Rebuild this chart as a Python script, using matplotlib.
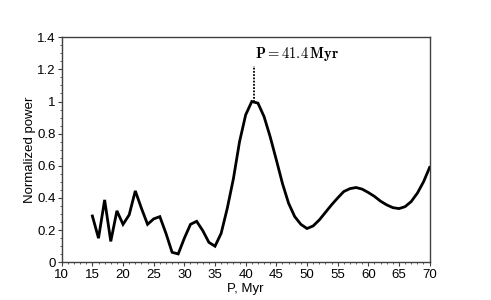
import matplotlib
matplotlib.use("Agg")
import matplotlib.pyplot as plt
from matplotlib.ticker import MultipleLocator, FuncFormatter

# periods (Myr) and normalized power
period = list(range(15, 71))
power = [0.288, 0.15, 0.388, 0.13, 0.32, 0.236, 0.295, 0.444, 0.336, 0.236,
         0.27, 0.284, 0.18, 0.062, 0.052, 0.15, 0.236, 0.255, 0.197, 0.124,
         0.10, 0.18, 0.336, 0.52, 0.75, 0.917, 1.0, 0.99, 0.906, 0.78,
         0.637, 0.49, 0.367, 0.284, 0.236, 0.21, 0.226, 0.263, 0.31, 0.357,
         0.40, 0.44, 0.458, 0.465, 0.455, 0.434, 0.41, 0.38, 0.357, 0.34,
         0.334, 0.346, 0.378, 0.43, 0.50, 0.59]
peak_period = 41.4
peak_top = 1.22

plt.rcParams['font.family'] = ['Liberation Sans', 'DejaVu Sans']
plt.rcParams['mathtext.fontset'] = 'cm'

fig = plt.figure(figsize=(4.91, 3.0), dpi=100)
ax = fig.add_axes([0.1257, 0.1257, 0.7493, 0.7503])

ax.plot(period, power, color='black', lw=2, solid_joinstyle='miter')
ax.plot([peak_period, peak_period], [1.0, peak_top], color='black', lw=1.3, ls=(0, (1, 0.8)))
ax.text(41.6, 1.295, r'$\mathbf{P = 41.4\,Myr}$', fontsize=10.5, va='center', ha='left')

ax.set_xlim(10, 70)
ax.set_ylim(0, 1.4)
ax.xaxis.set_major_locator(MultipleLocator(5))
ax.xaxis.set_minor_locator(MultipleLocator(1))
ax.yaxis.set_major_locator(MultipleLocator(0.2))
ax.yaxis.set_minor_locator(MultipleLocator(0.05))
ax.yaxis.set_major_formatter(FuncFormatter(lambda v, p: f'{v:g}'))

for s in ax.spines.values():
    s.set_color('#404040')
    s.set_linewidth(1)
ax.tick_params(which='major', length=3, labelsize=9.5, pad=1.5, color='#404040')
ax.tick_params(which='minor', length=1.5, color='#404040')

ax.set_xlabel('P, Myr', fontsize=9.5, labelpad=2)
ax.set_ylabel('Normalized power', fontsize=9.5, labelpad=1)

fig.savefig('out.png', dpi=100)
